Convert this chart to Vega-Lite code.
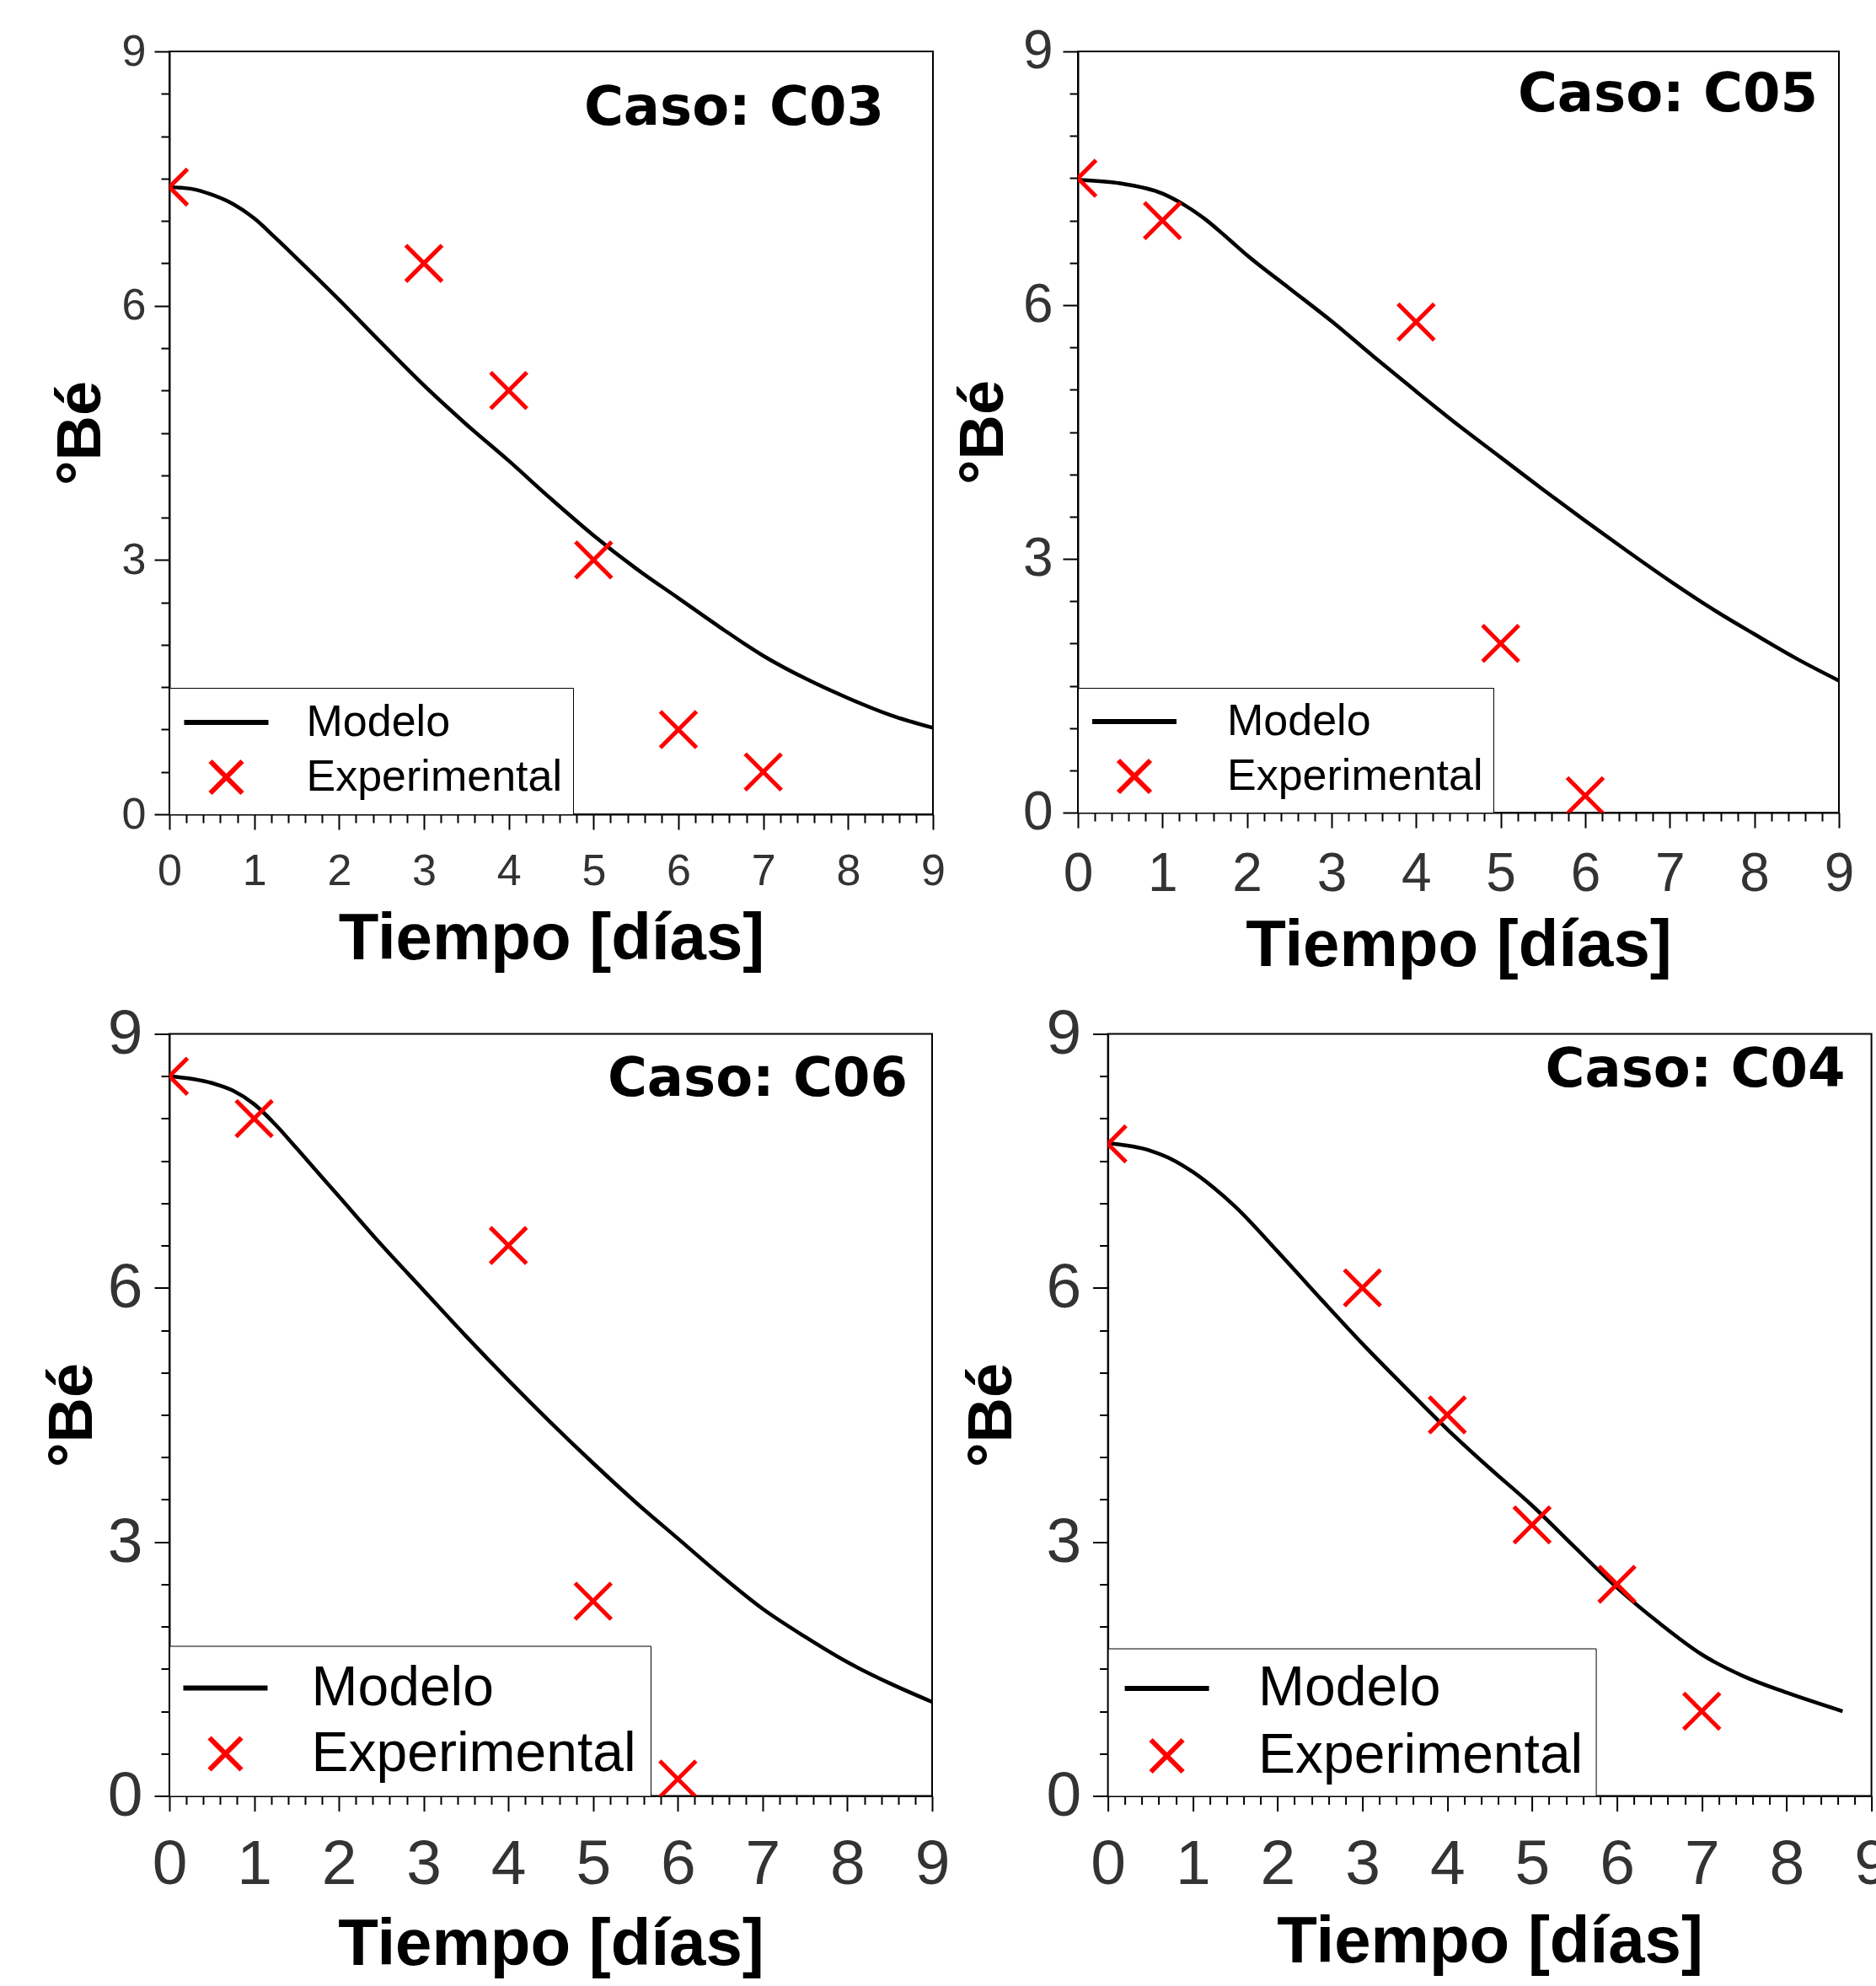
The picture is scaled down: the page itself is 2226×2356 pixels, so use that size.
{
  "$schema": "https://vega.github.io/schema/vega-lite/v6.json",
  "background": "white",
  "padding": {"left": 48, "top": 28, "right": 0, "bottom": 0},
  "data": {"values": [
    {"caso":"C03","serie":"Modelo","t":0,"be":7.40},{"caso":"C03","serie":"Modelo","t":0.25,"be":7.38},{"caso":"C03","serie":"Modelo","t":0.5,"be":7.31},{"caso":"C03","serie":"Modelo","t":0.75,"be":7.20},{"caso":"C03","serie":"Modelo","t":1,"be":7.03},{"caso":"C03","serie":"Modelo","t":1.25,"be":6.80},{"caso":"C03","serie":"Modelo","t":1.5,"be":6.56},{"caso":"C03","serie":"Modelo","t":2,"be":6.07},{"caso":"C03","serie":"Modelo","t":2.5,"be":5.56},{"caso":"C03","serie":"Modelo","t":3,"be":5.06},{"caso":"C03","serie":"Modelo","t":3.5,"be":4.60},{"caso":"C03","serie":"Modelo","t":4,"be":4.17},{"caso":"C03","serie":"Modelo","t":4.5,"be":3.72},{"caso":"C03","serie":"Modelo","t":5,"be":3.29},{"caso":"C03","serie":"Modelo","t":5.5,"be":2.90},{"caso":"C03","serie":"Modelo","t":6,"be":2.55},{"caso":"C03","serie":"Modelo","t":6.5,"be":2.20},{"caso":"C03","serie":"Modelo","t":7,"be":1.87},{"caso":"C03","serie":"Modelo","t":7.5,"be":1.60},{"caso":"C03","serie":"Modelo","t":8,"be":1.37},{"caso":"C03","serie":"Modelo","t":8.5,"be":1.17},{"caso":"C03","serie":"Modelo","t":9,"be":1.02},
    {"caso":"C03","serie":"Experimental","t":0,"be":7.4},{"caso":"C03","serie":"Experimental","t":3,"be":6.5},{"caso":"C03","serie":"Experimental","t":4,"be":5.0},{"caso":"C03","serie":"Experimental","t":5,"be":3.0},{"caso":"C03","serie":"Experimental","t":6,"be":1.0},{"caso":"C03","serie":"Experimental","t":7,"be":0.5},
    {"caso":"C05","serie":"Modelo","t":0,"be":7.48},{"caso":"C05","serie":"Modelo","t":0.5,"be":7.44},{"caso":"C05","serie":"Modelo","t":1,"be":7.32},{"caso":"C05","serie":"Modelo","t":1.25,"be":7.19},{"caso":"C05","serie":"Modelo","t":1.5,"be":7.02},{"caso":"C05","serie":"Modelo","t":1.75,"be":6.81},{"caso":"C05","serie":"Modelo","t":2,"be":6.59},{"caso":"C05","serie":"Modelo","t":2.5,"be":6.20},{"caso":"C05","serie":"Modelo","t":3,"be":5.81},{"caso":"C05","serie":"Modelo","t":3.5,"be":5.39},{"caso":"C05","serie":"Modelo","t":4,"be":4.98},{"caso":"C05","serie":"Modelo","t":4.5,"be":4.58},{"caso":"C05","serie":"Modelo","t":5,"be":4.20},{"caso":"C05","serie":"Modelo","t":5.5,"be":3.82},{"caso":"C05","serie":"Modelo","t":6,"be":3.45},{"caso":"C05","serie":"Modelo","t":6.5,"be":3.09},{"caso":"C05","serie":"Modelo","t":7,"be":2.74},{"caso":"C05","serie":"Modelo","t":7.5,"be":2.41},{"caso":"C05","serie":"Modelo","t":8,"be":2.11},{"caso":"C05","serie":"Modelo","t":8.5,"be":1.82},{"caso":"C05","serie":"Modelo","t":9,"be":1.56},
    {"caso":"C05","serie":"Experimental","t":0,"be":7.5},{"caso":"C05","serie":"Experimental","t":1,"be":7.0},{"caso":"C05","serie":"Experimental","t":4,"be":5.8},{"caso":"C05","serie":"Experimental","t":5,"be":2.0},{"caso":"C05","serie":"Experimental","t":6,"be":0.2},
    {"caso":"C06","serie":"Modelo","t":0,"be":8.50},{"caso":"C06","serie":"Modelo","t":0.5,"be":8.42},{"caso":"C06","serie":"Modelo","t":0.75,"be":8.33},{"caso":"C06","serie":"Modelo","t":1,"be":8.17},{"caso":"C06","serie":"Modelo","t":1.25,"be":7.93},{"caso":"C06","serie":"Modelo","t":1.5,"be":7.65},{"caso":"C06","serie":"Modelo","t":2,"be":7.08},{"caso":"C06","serie":"Modelo","t":2.5,"be":6.51},{"caso":"C06","serie":"Modelo","t":3,"be":5.97},{"caso":"C06","serie":"Modelo","t":3.5,"be":5.43},{"caso":"C06","serie":"Modelo","t":4,"be":4.91},{"caso":"C06","serie":"Modelo","t":4.5,"be":4.41},{"caso":"C06","serie":"Modelo","t":5,"be":3.93},{"caso":"C06","serie":"Modelo","t":5.5,"be":3.47},{"caso":"C06","serie":"Modelo","t":6,"be":3.04},{"caso":"C06","serie":"Modelo","t":6.5,"be":2.61},{"caso":"C06","serie":"Modelo","t":7,"be":2.21},{"caso":"C06","serie":"Modelo","t":7.5,"be":1.88},{"caso":"C06","serie":"Modelo","t":8,"be":1.58},{"caso":"C06","serie":"Modelo","t":8.5,"be":1.33},{"caso":"C06","serie":"Modelo","t":9,"be":1.11},
    {"caso":"C06","serie":"Experimental","t":0,"be":8.5},{"caso":"C06","serie":"Experimental","t":1,"be":8.0},{"caso":"C06","serie":"Experimental","t":4,"be":6.5},{"caso":"C06","serie":"Experimental","t":5,"be":2.3},{"caso":"C06","serie":"Experimental","t":6,"be":0.2},
    {"caso":"C04","serie":"Modelo","t":0,"be":7.71},{"caso":"C04","serie":"Modelo","t":0.5,"be":7.62},{"caso":"C04","serie":"Modelo","t":0.75,"be":7.52},{"caso":"C04","serie":"Modelo","t":1,"be":7.37},{"caso":"C04","serie":"Modelo","t":1.25,"be":7.18},{"caso":"C04","serie":"Modelo","t":1.5,"be":6.96},{"caso":"C04","serie":"Modelo","t":2,"be":6.43},{"caso":"C04","serie":"Modelo","t":2.5,"be":5.88},{"caso":"C04","serie":"Modelo","t":3,"be":5.34},{"caso":"C04","serie":"Modelo","t":3.5,"be":4.83},{"caso":"C04","serie":"Modelo","t":4,"be":4.33},{"caso":"C04","serie":"Modelo","t":4.5,"be":3.87},{"caso":"C04","serie":"Modelo","t":5,"be":3.43},{"caso":"C04","serie":"Modelo","t":5.5,"be":2.94},{"caso":"C04","serie":"Modelo","t":6,"be":2.46},{"caso":"C04","serie":"Modelo","t":6.5,"be":2.04},{"caso":"C04","serie":"Modelo","t":7,"be":1.67},{"caso":"C04","serie":"Modelo","t":7.5,"be":1.41},{"caso":"C04","serie":"Modelo","t":8,"be":1.22},{"caso":"C04","serie":"Modelo","t":8.66,"be":1.00},
    {"caso":"C04","serie":"Experimental","t":0,"be":7.7},{"caso":"C04","serie":"Experimental","t":3,"be":6.0},{"caso":"C04","serie":"Experimental","t":4,"be":4.5},{"caso":"C04","serie":"Experimental","t":5,"be":3.2},{"caso":"C04","serie":"Experimental","t":6,"be":2.5},{"caso":"C04","serie":"Experimental","t":7,"be":1.0}
  ]},
  "spacing": 25.5,
  "resolve": {"scale": {"color": "independent", "shape": "independent"}},
  "vconcat": [
    {
      "spacing": 6,
      "resolve": {"scale": {"color": "independent", "shape": "independent"}},
      "hconcat": [
        {
          "width": 906, "height": 905,
          "title": {"text": "Caso: C03", "orient": "top", "anchor": "end", "frame": "group", "baseline": "bottom", "offset": -127, "dx": -58, "dy": 63, "font": "DejaVu Sans", "fontSize": 64, "fontWeight": "bold", "color": "black"},
          "layer": [
            {
              "transform": [{"filter": "datum.caso === 'C03' && datum.serie === 'Modelo'"}],
              "mark": {"type": "line", "color": "black", "strokeWidth": 4.5, "interpolate": "monotone"},
              "encoding": {
                "x": {"field": "t", "type": "quantitative", "scale": {"domain": [0, 9], "nice": false},
                  "axis": {"values": [0,0.2,0.4,0.6,0.8,1,1.2,1.4,1.6,1.8,2,2.2,2.4,2.6,2.8,3,3.2,3.4,3.6,3.8,4,4.2,4.4,4.6,4.8,5,5.2,5.4,5.6,5.8,6,6.2,6.4,6.6,6.8,7,7.2,7.4,7.6,7.8,8,8.2,8.4,8.6,8.8,9], "tickCount": 1000,
                    "labelExpr": "datum.value % 1 === 0 ? format(datum.value, 'd') : ''", "labelOverlap": false, "labelSeparation": -1000,
                    "tickSize": {"condition": {"test": "datum.value % 1 === 0", "value": 18}, "value": 10},
                    "labelFontSize": 52, "labelPadding": 24, "title": "Tiempo [días]", "titleFontSize": 78, "titlePadding": 16.5}},
                "y": {"field": "be", "type": "quantitative", "scale": {"domain": [0, 9], "nice": false},
                  "axis": {"values": [0,0.5,1,1.5,2,2.5,3,3.5,4,4.5,5,5.5,6,6.5,7,7.5,8,8.5,9], "tickCount": 1000,
                    "labelExpr": "datum.value % 3 === 0 ? format(datum.value, 'd') : ''", "labelOverlap": false, "labelSeparation": -1000,
                    "tickSize": {"condition": {"test": "datum.value % 3 === 0", "value": 18}, "value": 10},
                    "labelFontSize": 52, "labelPadding": 10, "title": "°Bé", "titleFontSize": 74, "titlePadding": 9.5}}
              }
            },
            {
              "transform": [{"filter": "datum.caso === 'C03' && datum.serie === 'Experimental'"}],
              "mark": {"type": "point", "filled": false, "strokeWidth": 5, "size": 3200, "opacity": 1, "clip": true},
              "encoding": {
                "x": {"field": "t", "type": "quantitative", "scale": {"domain": [0, 9], "nice": false}},
                "y": {"field": "be", "type": "quantitative", "scale": {"domain": [0, 9], "nice": false}},
                "color": {"field": "serie", "type": "nominal", "scale": {"domain": ["Modelo", "Experimental"], "range": ["black", "#ff0000"]},
                  "legend": {"title": null, "orient": "bottom-left", "offset": 0, "padding": 13, "rowPadding": 8, "symbolOffset": 26.5, "labelOffset": 67, "labelFontSize": 52}},
                "shape": {"field": "serie", "type": "nominal", "scale": {"domain": ["Modelo", "Experimental"], "range": ["M-2,0L2,0", "M-0.76,-0.76L0.76,0.76M-0.76,0.76L0.76,-0.76"]},
                  "legend": {"title": null, "orient": "bottom-left", "offset": 0, "padding": 13, "rowPadding": 8, "symbolOffset": 26.5, "labelOffset": 67, "labelFontSize": 52}}
              }
            }
          ]
        },
        {
          "width": 903, "height": 903,
          "title": {"text": "Caso: C05", "orient": "top", "anchor": "end", "frame": "group", "baseline": "bottom", "offset": -115, "dx": -25, "dy": 65, "font": "DejaVu Sans", "fontSize": 64, "fontWeight": "bold", "color": "black"},
          "layer": [
            {
              "transform": [{"filter": "datum.caso === 'C05' && datum.serie === 'Modelo'"}],
              "mark": {"type": "line", "color": "black", "strokeWidth": 4.5, "interpolate": "monotone"},
              "encoding": {
                "x": {"field": "t", "type": "quantitative", "scale": {"domain": [0, 9], "nice": false},
                  "axis": {"values": [0,0.2,0.4,0.6,0.8,1,1.2,1.4,1.6,1.8,2,2.2,2.4,2.6,2.8,3,3.2,3.4,3.6,3.8,4,4.2,4.4,4.6,4.8,5,5.2,5.4,5.6,5.8,6,6.2,6.4,6.6,6.8,7,7.2,7.4,7.6,7.8,8,8.2,8.4,8.6,8.8,9], "tickCount": 1000,
                    "labelExpr": "datum.value % 1 === 0 ? format(datum.value, 'd') : ''", "labelOverlap": false, "labelSeparation": -1000,
                    "tickSize": {"condition": {"test": "datum.value % 1 === 0", "value": 18}, "value": 10},
                    "labelFontSize": 64, "labelPadding": 23.3, "title": "Tiempo [días]", "titleFontSize": 78, "titlePadding": 14.5}},
                "y": {"field": "be", "type": "quantitative", "scale": {"domain": [0, 9], "nice": false},
                  "axis": {"values": [0,0.5,1,1.5,2,2.5,3,3.5,4,4.5,5,5.5,6,6.5,7,7.5,8,8.5,9], "tickCount": 1000,
                    "labelExpr": "datum.value % 3 === 0 ? format(datum.value, 'd') : ''", "labelOverlap": false, "labelSeparation": -1000,
                    "tickSize": {"condition": {"test": "datum.value % 3 === 0", "value": 18}, "value": 10},
                    "labelFontSize": 64, "labelPadding": 12, "title": "°Bé", "titleFontSize": 74, "titlePadding": 8}}
              }
            },
            {
              "transform": [{"filter": "datum.caso === 'C05' && datum.serie === 'Experimental'"}],
              "mark": {"type": "point", "filled": false, "strokeWidth": 5, "size": 3200, "opacity": 1, "clip": true},
              "encoding": {
                "x": {"field": "t", "type": "quantitative", "scale": {"domain": [0, 9], "nice": false}},
                "y": {"field": "be", "type": "quantitative", "scale": {"domain": [0, 9], "nice": false}},
                "color": {"field": "serie", "type": "nominal", "scale": {"domain": ["Modelo", "Experimental"], "range": ["black", "#ff0000"]},
                  "legend": {"title": null, "orient": "bottom-left", "offset": 0, "padding": 12, "rowPadding": 8, "symbolOffset": 27, "labelOffset": 82, "labelFontSize": 52}},
                "shape": {"field": "serie", "type": "nominal", "scale": {"domain": ["Modelo", "Experimental"], "range": ["M-2,0L2,0", "M-0.76,-0.76L0.76,0.76M-0.76,0.76L0.76,-0.76"]},
                  "legend": {"title": null, "orient": "bottom-left", "offset": 0, "padding": 12, "rowPadding": 8, "symbolOffset": 27, "labelOffset": 82, "labelFontSize": 52}}
              }
            }
          ]
        }
      ]
    },
    {
      "spacing": 10.6,
      "resolve": {"scale": {"color": "independent", "shape": "independent"}},
      "hconcat": [
        {
          "width": 905, "height": 904,
          "title": {"text": "Caso: C06", "orient": "top", "anchor": "end", "frame": "group", "baseline": "bottom", "offset": -122, "dx": -29, "dy": 65, "font": "DejaVu Sans", "fontSize": 64, "fontWeight": "bold", "color": "black"},
          "layer": [
            {
              "transform": [{"filter": "datum.caso === 'C06' && datum.serie === 'Modelo'"}],
              "mark": {"type": "line", "color": "black", "strokeWidth": 4.5, "interpolate": "monotone"},
              "encoding": {
                "x": {"field": "t", "type": "quantitative", "scale": {"domain": [0, 9], "nice": false},
                  "axis": {"values": [0,0.2,0.4,0.6,0.8,1,1.2,1.4,1.6,1.8,2,2.2,2.4,2.6,2.8,3,3.2,3.4,3.6,3.8,4,4.2,4.4,4.6,4.8,5,5.2,5.4,5.6,5.8,6,6.2,6.4,6.6,6.8,7,7.2,7.4,7.6,7.8,8,8.2,8.4,8.6,8.8,9], "tickCount": 1000,
                    "labelExpr": "datum.value % 1 === 0 ? format(datum.value, 'd') : ''", "labelOverlap": false, "labelSeparation": -1000,
                    "tickSize": {"condition": {"test": "datum.value % 1 === 0", "value": 18}, "value": 10},
                    "labelFontSize": 75, "labelPadding": 27.4, "title": "Tiempo [días]", "titleFontSize": 78, "titlePadding": 18.5}},
                "y": {"field": "be", "type": "quantitative", "scale": {"domain": [0, 9], "nice": false},
                  "axis": {"values": [0,0.5,1,1.5,2,2.5,3,3.5,4,4.5,5,5.5,6,6.5,7,7.5,8,8.5,9], "tickCount": 1000,
                    "labelExpr": "datum.value % 3 === 0 ? format(datum.value, 'd') : ''", "labelOverlap": false, "labelSeparation": -1000,
                    "tickSize": {"condition": {"test": "datum.value % 3 === 0", "value": 18}, "value": 10},
                    "labelFontSize": 75, "labelPadding": 14, "title": "°Bé", "titleFontSize": 74, "titlePadding": 3}}
              }
            },
            {
              "transform": [{"filter": "datum.caso === 'C06' && datum.serie === 'Experimental'"}],
              "mark": {"type": "point", "filled": false, "strokeWidth": 5, "size": 3200, "opacity": 1, "clip": true},
              "encoding": {
                "x": {"field": "t", "type": "quantitative", "scale": {"domain": [0, 9], "nice": false}},
                "y": {"field": "be", "type": "quantitative", "scale": {"domain": [0, 9], "nice": false}},
                "color": {"field": "serie", "type": "nominal", "scale": {"domain": ["Modelo", "Experimental"], "range": ["black", "#ff0000"]},
                  "legend": {"title": null, "orient": "bottom-left", "offset": 0, "padding": 17, "rowPadding": 12, "symbolOffset": 16.5, "labelOffset": 69, "labelFontSize": 66}},
                "shape": {"field": "serie", "type": "nominal", "scale": {"domain": ["Modelo", "Experimental"], "range": ["M-2,0L2,0", "M-0.76,-0.76L0.76,0.76M-0.76,0.76L0.76,-0.76"]},
                  "legend": {"title": null, "orient": "bottom-left", "offset": 0, "padding": 17, "rowPadding": 12, "symbolOffset": 16.5, "labelOffset": 69, "labelFontSize": 66}}
              }
            }
          ]
        },
        {
          "width": 906, "height": 904,
          "title": {"text": "Caso: C04", "orient": "top", "anchor": "end", "frame": "group", "baseline": "bottom", "offset": -113, "dx": -31, "dy": 63, "font": "DejaVu Sans", "fontSize": 64, "fontWeight": "bold", "color": "black"},
          "layer": [
            {
              "transform": [{"filter": "datum.caso === 'C04' && datum.serie === 'Modelo'"}],
              "mark": {"type": "line", "color": "black", "strokeWidth": 4.5, "interpolate": "monotone"},
              "encoding": {
                "x": {"field": "t", "type": "quantitative", "scale": {"domain": [0, 9], "nice": false},
                  "axis": {"values": [0,0.2,0.4,0.6,0.8,1,1.2,1.4,1.6,1.8,2,2.2,2.4,2.6,2.8,3,3.2,3.4,3.6,3.8,4,4.2,4.4,4.6,4.8,5,5.2,5.4,5.6,5.8,6,6.2,6.4,6.6,6.8,7,7.2,7.4,7.6,7.8,8,8.2,8.4,8.6,8.8,9], "tickCount": 1000,
                    "labelExpr": "datum.value % 1 === 0 ? format(datum.value, 'd') : ''", "labelOverlap": false, "labelSeparation": -1000,
                    "tickSize": {"condition": {"test": "datum.value % 1 === 0", "value": 18}, "value": 10},
                    "labelFontSize": 75, "labelPadding": 27.4, "title": "Tiempo [días]", "titleFontSize": 78, "titlePadding": 15.5}},
                "y": {"field": "be", "type": "quantitative", "scale": {"domain": [0, 9], "nice": false},
                  "axis": {"values": [0,0.5,1,1.5,2,2.5,3,3.5,4,4.5,5,5.5,6,6.5,7,7.5,8,8.5,9], "tickCount": 1000,
                    "labelExpr": "datum.value % 3 === 0 ? format(datum.value, 'd') : ''", "labelOverlap": false, "labelSeparation": -1000,
                    "tickSize": {"condition": {"test": "datum.value % 3 === 0", "value": 18}, "value": 10},
                    "labelFontSize": 75, "labelPadding": 14, "title": "°Bé", "titleFontSize": 74, "titlePadding": 25.8}}
              }
            },
            {
              "transform": [{"filter": "datum.caso === 'C04' && datum.serie === 'Experimental'"}],
              "mark": {"type": "point", "filled": false, "strokeWidth": 5, "size": 3200, "opacity": 1, "clip": true},
              "encoding": {
                "x": {"field": "t", "type": "quantitative", "scale": {"domain": [0, 9], "nice": false}},
                "y": {"field": "be", "type": "quantitative", "scale": {"domain": [0, 9], "nice": false}},
                "color": {"field": "serie", "type": "nominal", "scale": {"domain": ["Modelo", "Experimental"], "range": ["black", "#ff0000"]},
                  "legend": {"title": null, "orient": "bottom-left", "offset": 0, "padding": 14.5, "rowPadding": 14, "symbolOffset": 22.5, "labelOffset": 75.5, "labelFontSize": 66}},
                "shape": {"field": "serie", "type": "nominal", "scale": {"domain": ["Modelo", "Experimental"], "range": ["M-2,0L2,0", "M-0.76,-0.76L0.76,0.76M-0.76,0.76L0.76,-0.76"]},
                  "legend": {"title": null, "orient": "bottom-left", "offset": 0, "padding": 14.5, "rowPadding": 14, "symbolOffset": 22.5, "labelOffset": 75.5, "labelFontSize": 66}}
              }
            }
          ]
        }
      ]
    }
  ],
  "config": {
    "view": {"stroke": "black", "strokeWidth": 2},
    "axis": {"grid": false, "domainColor": "black", "domainWidth": 2, "tickColor": "black", "tickWidth": 2, "labelColor": "#333333", "labelFont": "Liberation Sans", "labelOverlap": false, "labelFlush": false, "titleFont": "Liberation Sans", "titleFontWeight": "bold", "titleColor": "black"},
    "legend": {"labelFont": "Liberation Sans", "labelColor": "black", "labelLimit": 2000, "strokeColor": "black", "fillColor": "white", "symbolSize": 2500, "symbolStrokeWidth": 6}
  }
}
